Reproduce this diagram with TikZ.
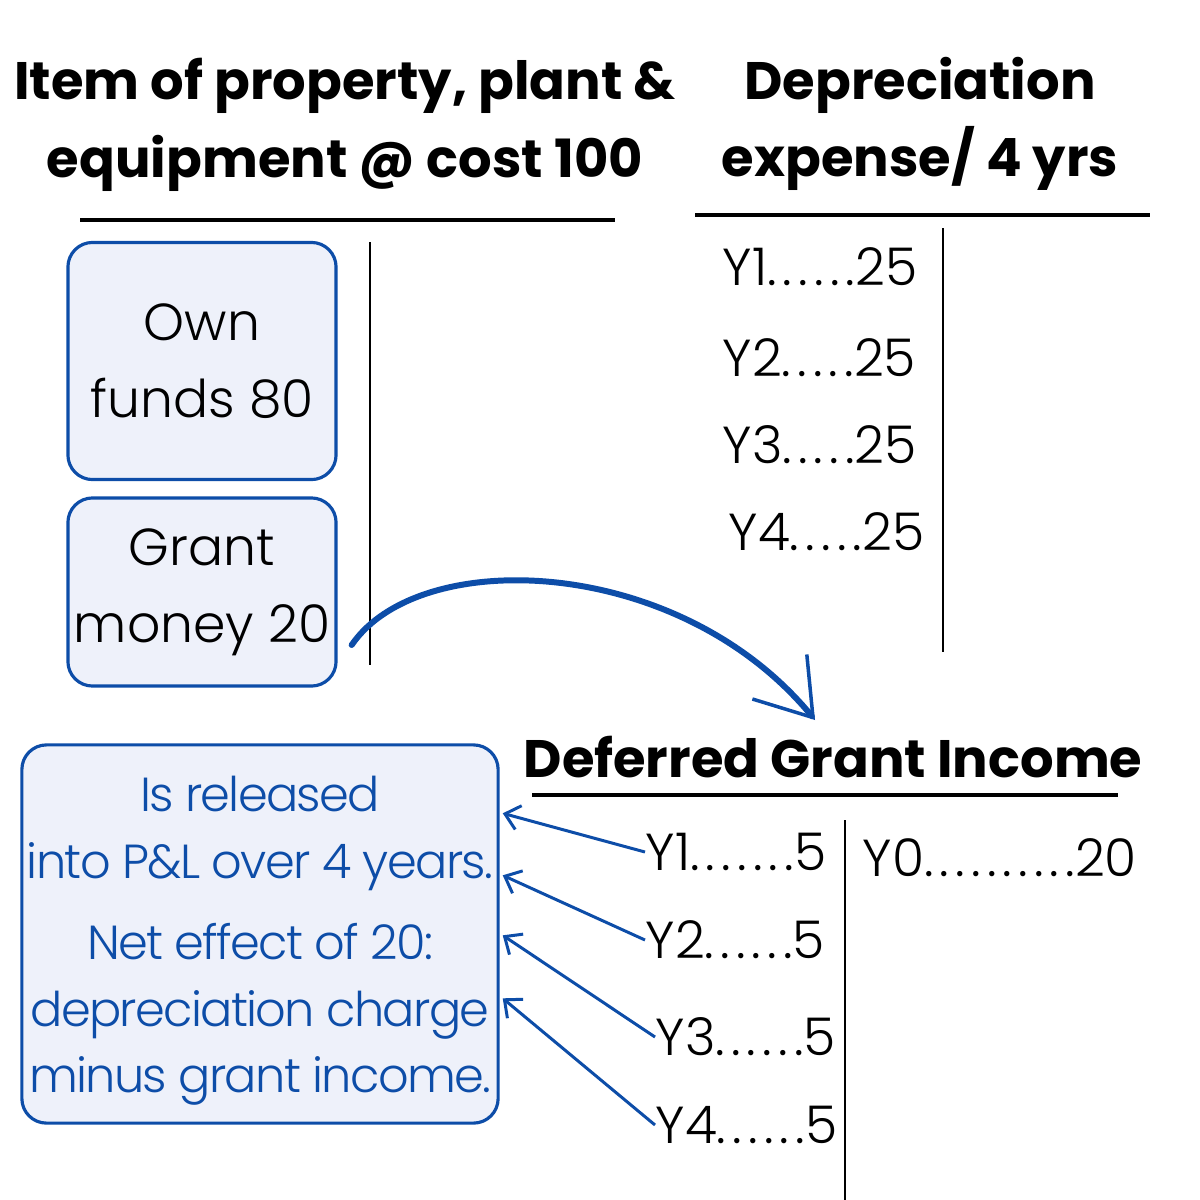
\documentclass[tikz,border=0pt]{standalone}
\usepackage{fontspec}
\setmainfont{Poppins}
\newfontfamily\lightfont{Poppins Light}
\usetikzlibrary{arrows.meta, positioning, calc}
\definecolor{grantblue}{RGB}{13, 77, 168}
\definecolor{boxfill}{RGB}{238, 241, 250}
\newcommand{\headfont}{\bfseries\fontsize{15}{22}\selectfont}
\newcommand{\bodyfont}{\lightfont\fontsize{14.8}{22}\selectfont}
\newcommand{\notefont}{\lightfont\fontsize{13.6}{19}\selectfont\addfontfeature{LetterSpace=-3.5}}
\newcommand{\spaced}[1]{{\addfontfeature{LetterSpace=12}#1}}

\begin{document}
\begin{tikzpicture}[x=0.01cm, y=-0.01cm,
    heading/.style={font=\headfont, align=center, inner sep=0pt},
    ledger/.style={line width=1.1pt},
    tline/.style={line width=0.55pt},
    fundbox/.style={draw=grantblue, fill=boxfill, line width=0.9pt, rounded corners=7pt,
        font=\bodyfont, align=center, minimum width=2.68cm, inner sep=0pt},
    entry/.style={font=\bodyfont, inner sep=0pt, anchor=west},
    release/.style={grantblue, line width=0.85pt, -{Straight Barb[length=4pt, width=7pt]}}]
    \useasboundingbox (0,0) rectangle (1200,1200);

    % Asset account
    \node[heading] (asset) at (345, 125) {Item of property, plant \&\\equipment @ cost 100};
    \draw[ledger] (80, 220) -- (615, 220);
    \draw[tline] (370, 242) -- (370, 665);
    \node[fundbox, minimum height=2.37cm] (own) at (202, 361) {Own\\funds 80};
    \node[fundbox, minimum height=1.88cm] (grant) at (202, 592) {Grant\\money 20};

    % Depreciation account
    \node[heading] (dep) at (920, 124) {Depreciation\\expense/ 4 yrs};
    \draw[ledger] (695, 215) -- (1150, 215);
    \draw[tline] (943, 228) -- (943, 652);
    \node[entry] (d1) at (722, 267) {Y1\spaced{......}25};
    \node[entry] (d2) at (722, 358) {Y2\spaced{.....}25};
    \node[entry] (d3) at (722, 445) {Y3\spaced{.....}25};
    \node[entry] (d4) at (728, 532) {Y4\spaced{.....}25};

    % Deferred grant income account
    \node[heading] (dgi) at (833, 757) {Deferred Grant Income};
    \draw[ledger] (532, 795) -- (1118, 795);
    \draw[tline] (845, 820) -- (845, 1200);
    \node[entry] (g1) at (645, 852) {Y1\spaced{.......}5};
    \node[entry] (g2) at (645, 940) {Y2\spaced{......}5};
    \node[entry] (g3) at (655, 1037) {Y3\spaced{......}5};
    \node[entry] (g4) at (655, 1125) {Y4\spaced{......}5};
    \node[entry] (g0) at (862, 858) {Y0\spaced{..........}20};

    % Release note
    \node[fundbox, minimum width=4.76cm, minimum height=3.78cm] (note) at (260, 934) {};
    \node[font=\notefont, align=center, text=grantblue, inner sep=0pt] (notetext) at ($(note.center)+(0, 7)$)
        {Is released\\into P\&L over 4 years.\\[4pt]Net effect of 20:\\depreciation charge\\minus grant income.};

    % Transfer of grant
    \coordinate (out) at ($(grant.east)+(14, 53)$);
    \coordinate (land) at (815, 720);
    \draw[grantblue, line width=1.7pt, line cap=round, -{Straight Barb[length=15pt, width=20pt, line width=1pt]}]
        (out) .. controls (420, 545) and (680, 555) .. (land);

    % Yearly release into P&L
    \foreach \g/\dy in {g1/70, g2/132, g3/192, g4/255}
        \draw[release] (\g.west) -- ($(note.north east)+(3, \dy)$);
\end{tikzpicture}
\end{document}
